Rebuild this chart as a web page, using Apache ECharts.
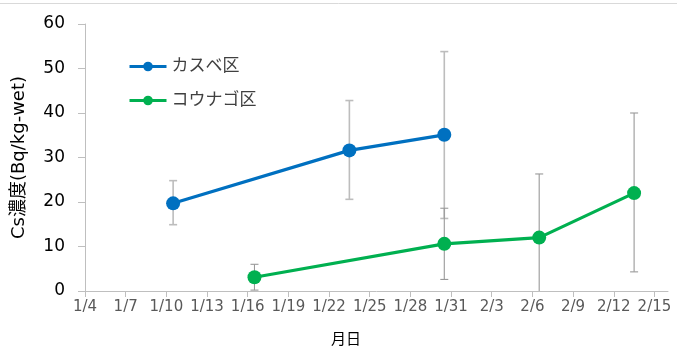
<!DOCTYPE html>
<html><head><meta charset="utf-8">
<script src="https://cdn.jsdelivr.net/npm/echarts@6/dist/echarts.min.js"></script>
<style>html,body{margin:0;padding:0;background:#fff}#c{width:677px;height:349px}</style>
</head><body><div id="c"></div>
<script>
// ---- data ----
const seriesNames = ['カスベ区', 'コウナゴ区'];
const kasubeDates = ['1/10', '1/23', '1/30'];
const kasubeValues = [19.7, 31.6, 35.1];
const kasubeLow = [14.9, 20.6, 16.3];
const kasubeHigh = [24.8, 42.8, 53.8];
const kounagoDates = ['1/16', '1/30', '2/6', '2/13'];
const kounagoValues = [3.1, 10.6, 12.0, 22.0];
const kounagoLow = [0.2, 2.6, -2.3, 4.3];
const kounagoHigh = [6.0, 18.6, 26.3, 40.0];
const xTickDates = ['1/4','1/7','1/10','1/13','1/16','1/19','1/22','1/25','1/28','1/31','2/3','2/6','2/9','2/12','2/15'];
const yTicks = [0, 10, 20, 30, 40, 50, 60];

// ---- helpers ----
function dayNum(s){ const [m,d] = s.split('/').map(Number); return m === 1 ? d : 31 + d; }
function dayLabel(n){ return n <= 31 ? '1/' + n : '2/' + (n - 31); }
const CENTER = 0.5; // points sit in the middle of their date
const xTickVals = xTickDates.map(dayNum);
const kasubeData = kasubeDates.map((d,i)=>[dayNum(d)+CENTER, kasubeValues[i]]);
const kounagoData = kounagoDates.map((d,i)=>[dayNum(d)+CENTER, kounagoValues[i]]);
const kasubeErr = kasubeDates.map((d,i)=>[dayNum(d)+CENTER, kasubeLow[i], kasubeHigh[i]]);
const kounagoErr = kounagoDates.map((d,i)=>[dayNum(d)+CENTER, kounagoLow[i], kounagoHigh[i]]);

const JP = '"DejaVu Sans", "Noto Sans CJK JP", sans-serif';
const BLUE = '#0070C0', GREEN = '#00B050';

function errRender(color, width){
  return function(params, api){
    const x = api.value(0);
    const lowV = api.value(1), highV = api.value(2);
    const clamped = lowV < 0;
    const top = api.coord([x, highV]);
    const bot = api.coord([x, clamped ? 0 : lowV]);
    const hw = 4;
    const children = [
      {type:'line', shape:{x1:top[0], y1:top[1], x2:bot[0], y2:bot[1]}, style:{stroke:color, lineWidth:width}},
      {type:'line', shape:{x1:top[0]-hw, y1:top[1], x2:top[0]+hw, y2:top[1]}, style:{stroke:color, lineWidth:width}}
    ];
    if (!clamped) children.push({type:'line', shape:{x1:bot[0]-hw, y1:bot[1], x2:bot[0]+hw, y2:bot[1]}, style:{stroke:color, lineWidth:width}});
    return {type:'group', children};
  };
}

const chart = echarts.init(document.getElementById('c'), null, {renderer:'canvas'});
chart.setOption({
  animation:false,
  backgroundColor:'#fff',
  textStyle:{fontFamily:JP},
  grid:{left:85, right:9, top:24, bottom:58, containLabel:false, outerBoundsMode:'none'},
  graphic:[
    {type:'line', shape:{x1:0, y1:3.5, x2:677, y2:3.5}, style:{stroke:'#d9d9d9', lineWidth:1}},
    {type:'text', left:331, top:333, style:{text:'月日', font:'15px ' + JP, fill:'#000'}}
  ],
  legend:{
    data:seriesNames, orient:'vertical', left:128, top:58, padding:0, itemWidth:37, itemHeight:12, itemGap:17,
    lineStyle:{width:3},
    textStyle:{fontSize:17, color:'#404040', fontFamily:JP}
  },
  xAxis:{
    type:'value', min:4, max:47,
    axisLine:{show:true, lineStyle:{color:'#bfbfbf', width:1}},
    axisTick:{show:true, inside:false, length:6, lineStyle:{color:'#bfbfbf'}, customValues:xTickVals},
    axisLabel:{customValues:xTickVals, formatter:v=>dayLabel(v), fontSize:15, color:'#595959', margin:9, fontFamily:JP},
    splitLine:{show:false}
  },
  yAxis:{
    type:'value', min:0, max:60,
    name:'Cs濃度(Bq/kg-wet)', nameLocation:'middle', nameGap:57,
    nameTextStyle:{fontSize:18, color:'#000', fontFamily:JP},
    axisLine:{show:true, lineStyle:{color:'#bfbfbf', width:1}},
    axisTick:{show:true, length:7, lineStyle:{color:'#bfbfbf'}, customValues:yTicks},
    axisLabel:{customValues:yTicks, fontSize:17, color:'#000', margin:20, fontFamily:JP},
    splitLine:{show:false}
  },
  series:[
    {type:'custom', name:'errK', data:kasubeErr, renderItem:errRender('#bdbdbd', 1.6), z:1, silent:true, encode:{x:0, y:[1,2]}},
    {type:'custom', name:'errG', data:kounagoErr, renderItem:errRender('#999999', 1.1), z:1, silent:true, encode:{x:0, y:[1,2]}},
    {type:'line', name:seriesNames[0], data:kasubeData, color:BLUE, symbol:'circle', symbolSize:14,
      lineStyle:{width:3.2, color:BLUE}, itemStyle:{color:BLUE}, z:3},
    {type:'line', name:seriesNames[1], data:kounagoData, color:GREEN, symbol:'circle', symbolSize:14,
      lineStyle:{width:3.2, color:GREEN}, itemStyle:{color:GREEN}, z:3}
  ]
});
</script></body></html>
